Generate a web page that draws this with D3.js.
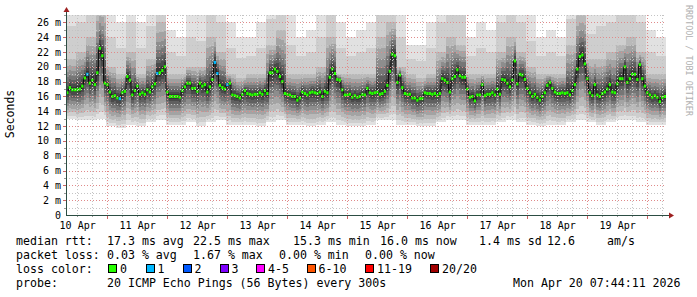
<!DOCTYPE html>
<html>
<head>
<meta charset="utf-8">
<script src="https://cdnjs.cloudflare.com/ajax/libs/d3/7.8.5/d3.min.js"></script>
<style>
body { margin:0; background:#fff; }
svg { display:block; }
text { font-family:"DejaVu Sans Mono", monospace; }
</style>
</head>
<body>
<svg id="mysvg" width="697" height="297"></svg>
<script>

// median rtt (ms), one value per hour, Apr 10 07:44 -> Apr 20 07:44
var median = [
	16.5,17.2,16.9,16.9,16.9,17.0,17.4,18.5,19.0,17.8,18.2,17.6,19.2,22.5,21.5,17.8,17.6,16.6,16.0,16.1,
	15.8,15.7,16.5,16.7,18.7,18.2,16.2,16.8,17.4,16.3,16.5,16.3,16.9,16.6,17.3,17.7,19.1,19.2,19.5,20.0,
	16.6,16.0,16.0,16.0,16.0,15.9,16.8,17.3,17.8,17.8,17.1,17.1,16.7,17.8,17.4,17.6,16.6,17.3,18.3,20.6,
	19.1,17.5,17.2,17.0,17.6,17.8,16.2,16.1,16.0,15.8,16.3,16.8,16.4,16.3,16.2,16.3,16.3,16.5,16.3,16.8,
	16.4,19.2,19.2,19.7,19.4,18.7,18.0,16.4,16.3,16.2,16.0,16.0,15.5,15.8,16.6,16.4,16.2,16.5,16.6,16.5,
	16.4,16.6,16.0,16.7,16.5,18.6,19.7,19.1,18.3,18.2,16.9,16.2,16.2,16.3,15.9,16.1,15.9,16.0,16.3,16.2,
	17.1,16.5,16.4,16.5,16.6,16.3,16.4,16.7,17.5,19.4,21.7,21.5,17.9,18.9,17.2,16.4,16.3,16.3,15.8,15.8,
	15.5,15.7,15.7,16.5,16.4,16.4,16.3,16.4,16.1,16.4,18.4,18.2,17.9,16.6,18.4,18.7,19.6,18.8,18.6,18.6,
	17.0,15.9,16.0,15.4,16.2,16.2,17.6,16.1,16.3,16.3,16.5,16.2,17.0,16.3,18.3,18.2,17.8,17.3,18.2,20.8,
	17.7,19.0,18.9,18.3,17.1,16.5,16.0,16.3,15.9,15.5,16.0,16.5,17.5,17.9,17.1,16.6,16.4,16.4,16.5,16.4,
	16.5,16.2,16.8,17.6,19.7,21.4,21.6,20.4,18.4,16.5,16.1,17.6,16.2,16.0,16.4,16.6,17.0,17.6,16.6,16.5,
	17.7,18.4,18.4,20.0,17.9,18.4,19.0,19.0,18.3,20.3,18.4,17.4,16.5,16.2,15.9,16.1,15.9,15.3,15.9,16.0
];

// hours with lost pings: [hour index, pings lost of 20]
var lossPoints = [[8,1],[21,1],[36,1],[59,1],[60,1],[64,1]];

// smoke spread, one value per 4 hours (ms)
var smokeTop = [
	30,30,30,32,28,26,30,26,30,32, 25,24,28,27,32,30,26,24,24,26,
	30,32,27,24,25,28,30,26,24,25, 26,30,32,28,23,23,26,30,30,32,
	24,26,25,30,32,30,27,24,25,24, 30,32,28,30,30,32,32,30,25,24
];
var smokeMid = [
	21,22,24,28,20,19,22,19,21,26, 19,19,20,20,24,22,19,18.5,19,19,
	23,25,19,19,19,20,24,19,19,19, 19,24,26,20,19,18.5,19,22,24,23,
	19,19,19,22,24,22,20,19,19,19, 23,27,21,21,22,23,24,22,19,19
];
var smokeBot = [
	13,12.8,12.8,13,12,11.8,12.2,12,12.5,12.8, 12.2,12.2,12.5,12,12.5,12.8,12.2,12.2,12.2,12,
	12.5,12.8,12.2,12.2,12,12.2,12.5,12.2,12,12, 12.2,12.8,12.8,12.2,12.2,12,12,12.5,12.8,12.8,
	12.2,12.2,12.2,12.5,12.8,12.5,12.2,12,12.2,12.2, 12.5,12.8,12.5,12.2,12.5,12.8,12.8,12.5,12.2,12.2
];

var yTicks = [0,2,4,6,8,10,12,14,16,18,20,22,24,26];
var lossColors = ["#26ff00","#00b8ff","#0059ff","#7e00ff","#ff00ff","#ff5500","#ff0000","#a10000"];
var lossLabels = ["0","1","2","3","4-5","6-10","11-19","20/20"];
var rttStats = ["median rtt:","17.3 ms avg","22.5 ms max","15.3 ms min","16.0 ms now","1.4 ms sd","12.6","am/s"];
var lossStats = ["packet loss:","0.03 % avg","1.67 % max","0.00 % min","0.00 % now"];
var probeText = ["probe:","20 ICMP Echo Pings (56 Bytes) every 300s","Mon Apr 20 07:44:11 2026"];

var svg = d3.select("#mysvg");

var start = Date.UTC(2026,3,10,7,44,11);
var end = start + 10*864e5;
var hour = 3600e3;

var x = d3.scaleUtc().domain([start,end]).range([66,666]);
var y = d3.scaleLinear().domain([0,27]).range([215,15]);

svg.append("defs").append("clipPath").attr("id","plotclip")
	.append("rect").attr("x",66).attr("y",15).attr("width",600).attr("height",200);

var plot = svg.append("g").attr("clip-path","url(#plotclip)");

// smoke, outer to inner
var shades = ["#e1e1e1","#cecece","#b9b9b9","#a3a3a3","#8d8d8d","#767676","#606060","#4a4a4a","#363636"];
var upF = [null,null,1,0.8,0.62,0.46,0.32,0.2,0.1];
var loF = [1,0.9,0.78,0.65,0.52,0.4,0.28,0.17,0.08];

function smokeUp(m,i,j) {
	var s = Math.floor(i/4);
	var mid = Math.max(smokeMid[s], m + 0.6);
	var top = Math.max(smokeTop[s], mid + 1);
	if (j == 0) return top;
	if (j == 1) return (top + mid)/2;
	return m + (mid - m)*upF[j];
}
function smokeLo(m,i,j) {
	var s = Math.floor(i/4);
	return m - (m - smokeBot[s])*loF[j];
}

shades.forEach(function(col,j) {
	plot.append("g").selectAll("rect").data(median).join("rect")
		.attr("x", function(d,i){ return x(start + i*hour); })
		.attr("width", function(d,i){ return x(start + (i+1)*hour) - x(start + i*hour) + 0.3; })
		.attr("y", function(m,i){ return y(smokeUp(m,i,j)); })
		.attr("height", function(m,i){ return y(smokeLo(m,i,j)) - y(smokeUp(m,i,j)); })
		.attr("fill", col)
		.attr("shape-rendering","crispEdges");
});

// grid
var grid = svg.append("g").attr("shape-rendering","crispEdges");
d3.range(1,28,2).forEach(function(v) {
	grid.append("line").attr("x1",66).attr("x2",666).attr("y1",Math.round(y(v))+0.5).attr("y2",Math.round(y(v))+0.5)
		.attr("stroke","#c4c4c4").attr("stroke-dasharray","1,2");
});
d3.utcHour.every(6).range(start,end).forEach(function(t) {
	if (t.getUTCHours() == 0) return;
	var px = Math.round(x(t))+0.5;
	grid.append("line").attr("x1",px).attr("x2",px).attr("y1",15).attr("y2",215)
		.attr("stroke","#c4c4c4").attr("stroke-dasharray","1,2");
	grid.append("line").attr("x1",px).attr("x2",px).attr("y1",215).attr("y2",217).attr("stroke","#999");
});
yTicks.forEach(function(v) {
	if (v == 0) return;
	var py = Math.round(y(v))+0.5;
	grid.append("line").attr("x1",66).attr("x2",666).attr("y1",py).attr("y2",py)
		.attr("stroke","#e08a8a").attr("stroke-dasharray","1,2");
});
d3.utcDay.range(start,end).forEach(function(t) {
	var px = Math.round(x(t))+0.5;
	grid.append("line").attr("x1",px).attr("x2",px).attr("y1",15).attr("y2",215)
		.attr("stroke","#e08a8a").attr("stroke-dasharray","1,2");
	grid.append("line").attr("x1",px).attr("x2",px).attr("y1",215).attr("y2",219).attr("stroke","#c66");
});
d3.range(1,28).forEach(function(v) {
	var py = Math.round(y(v))+0.5;
	grid.append("line").attr("x1",v % 2 ? 64 : 63).attr("x2",66).attr("y1",py).attr("y2",py)
		.attr("stroke", v % 2 ? "#999" : "#c66");
});

// median line and loss markers
var medLine = d3.line()
	.x(function(d,i){ return x(start + i*hour + hour/2); })
	.y(function(d){ return y(d); })
	.curve(d3.curveStep);
plot.append("path").datum(median).attr("d",medLine)
	.attr("fill","none").attr("stroke","#111").attr("stroke-width",1);

var lossAt = {};
lossPoints.forEach(function(p){ lossAt[p[0]] = p[1]; });
function lossColor(n) {
	if (!n) return lossColors[0];
	if (n == 1) return lossColors[1];
	if (n == 2) return lossColors[2];
	if (n == 3) return lossColors[3];
	if (n <= 5) return lossColors[4];
	if (n <= 10) return lossColors[5];
	if (n <= 19) return lossColors[6];
	return lossColors[7];
}
plot.append("g").selectAll("rect").data(median).join("rect")
	.attr("x", function(d,i){ return x(start + i*hour) + 0.2; })
	.attr("width", function(d,i){ return x(start + (i+1)*hour) - x(start + i*hour) - 0.2; })
	.attr("y", function(d){ return y(d) - 1.5; })
	.attr("height", 3)
	.attr("fill", function(d,i){ return lossColor(lossAt[i]); });

// axes
svg.append("line").attr("x1",66.5).attr("x2",66.5).attr("y1",215).attr("y2",12)
	.attr("stroke","#2c4d43").attr("shape-rendering","crispEdges");
svg.append("line").attr("x1",66).attr("x2",670).attr("y1",215.5).attr("y2",215.5)
	.attr("stroke","#2c4d43").attr("shape-rendering","crispEdges");
svg.append("path").attr("d","M63.5,12 L69.5,12 L66.5,7 Z").attr("fill","#9d2020");
svg.append("path").attr("d","M669,212.5 L669,218.5 L674,215.5 Z").attr("fill","#9d2020");

svg.append("g").selectAll("text").data(yTicks).join("text")
	.attr("x",61).attr("y",function(d){ return y(d); })
	.attr("dy","0.35em")
	.attr("text-anchor","end")
	.attr("font-size",10)
	.attr("fill","#000")
	.text(function(d){ return d == 0 ? "0" : d + " m"; });

svg.append("g").selectAll("text").data(d3.utcDay.range(start - 864e5, end).map(function(t){ return +t + 12*hour; })
		.filter(function(t){ return t > start && t < end; }))
	.join("text")
	.attr("x",function(d){ return x(d) + 1; })
	.attr("y",229)
	.attr("text-anchor","middle")
	.attr("font-size",10)
	.attr("fill","#000")
	.text(function(d){ return d3.utcFormat("%d %b")(new Date(d)); });

svg.append("text")
	.attr("transform","translate(14,114) rotate(-90)")
	.attr("text-anchor","middle")
	.attr("font-size",11.5)
	.attr("fill","#000")
	.text("Seconds");

svg.append("text")
	.attr("transform","translate(686,5) rotate(90)")
	.attr("font-size",8.4)
	.attr("fill","#b0b0b0")
	.text("RRDTOOL / TOBI OETIKER");

// legend
var legend = svg.append("g").attr("font-size",11.6).attr("fill","#000");
var rttX = [16,107,193,293,380,479,547,607];
rttStats.forEach(function(s,i){ legend.append("text").attr("x",rttX[i]).attr("y",245).text(s); });
var lossX = [16,107,193,279,365];
lossStats.forEach(function(s,i){ legend.append("text").attr("x",lossX[i]).attr("y",259).text(s); });
legend.append("text").attr("x",16).attr("y",273).text("loss color:");
var boxX = [108,145.5,182.5,219.5,256,306.5,365,430];
lossColors.forEach(function(c,i) {
	legend.append("rect").attr("x",boxX[i]+0.5).attr("y",264.5).attr("width",8).attr("height",8)
		.attr("fill",c).attr("stroke","#000").attr("shape-rendering","crispEdges");
	legend.append("text").attr("x",boxX[i]+12).attr("y",273).text(lossLabels[i]);
});
var probeX = [16,107,513];
probeText.forEach(function(s,i){ legend.append("text").attr("x",probeX[i]).attr("y",287).text(s); });

</script>
</body>
</html>
